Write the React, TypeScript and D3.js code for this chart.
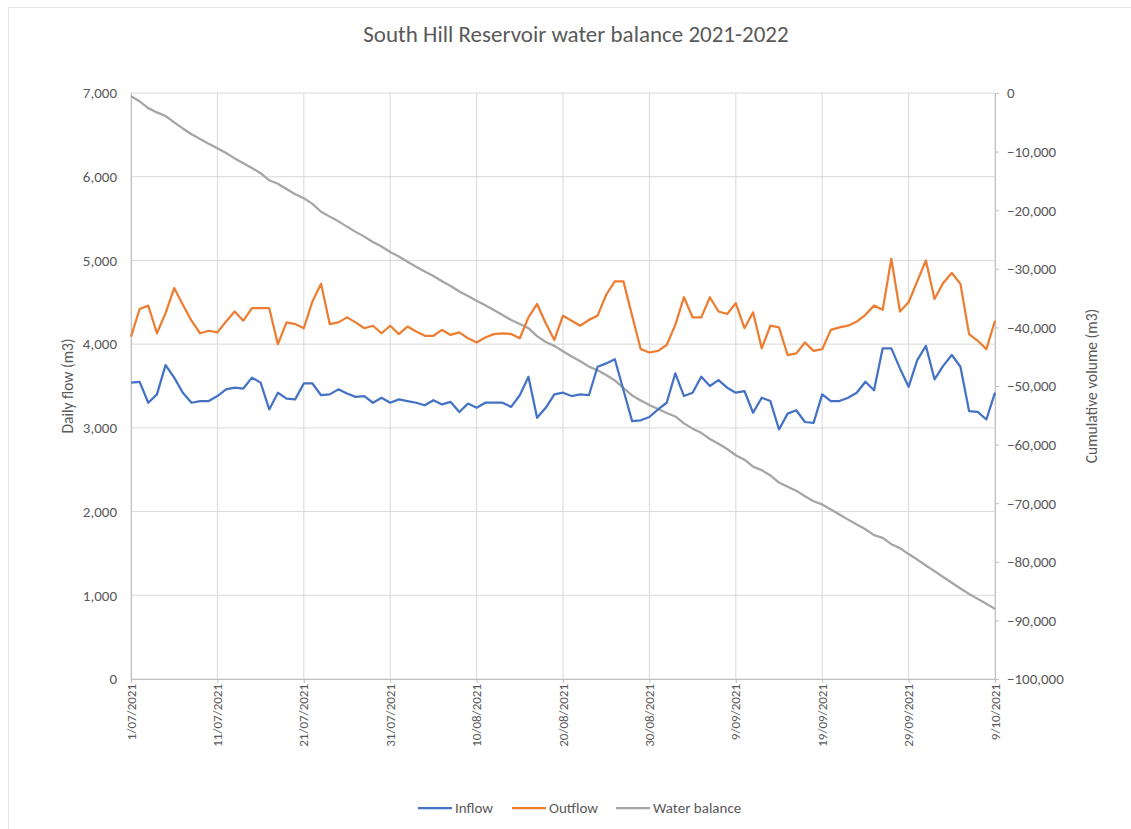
import React, { useEffect, useRef } from 'react';
import * as d3 from 'd3';

// Daily values, 1 Jul 2021 .. 9 Oct 2021 (101 days)
const startDate = new Date(2021, 6, 1);
const endDate = new Date(2021, 9, 9);

const inflow = [
  3540, 3550, 3300, 3400, 3750, 3600, 3420, 3300, 3320, 3320,
  3380, 3460, 3480, 3470, 3600, 3540, 3220, 3420, 3350, 3340,
  3530, 3530, 3390, 3400, 3460, 3410, 3370, 3380, 3300, 3360,
  3300, 3340, 3320, 3300, 3270, 3330, 3280, 3310, 3190, 3290,
  3240, 3300, 3300, 3300, 3250, 3390, 3610, 3120, 3240, 3400,
  3420, 3380, 3400, 3390, 3730, 3770, 3820, 3450, 3080, 3090,
  3130, 3220, 3300, 3650, 3380, 3420, 3610, 3500, 3570, 3480,
  3420, 3440, 3180, 3360, 3320, 2980, 3170, 3210, 3070, 3060,
  3400, 3320, 3320, 3360, 3420, 3550, 3450, 3950, 3950, 3710,
  3490, 3810, 3980, 3580, 3740, 3870, 3730, 3200, 3190, 3100,
  3420,
];

const outflow = [
  4090, 4420, 4460, 4130, 4370, 4670, 4470, 4280, 4130, 4160,
  4140, 4270, 4390, 4280, 4430, 4430, 4430, 4000, 4260, 4240,
  4190, 4510, 4720, 4240, 4260, 4320, 4260, 4190, 4220, 4130,
  4220, 4120, 4210, 4150, 4100, 4100, 4170, 4110, 4140, 4070,
  4020, 4080, 4120, 4130, 4120, 4070, 4320, 4480, 4250, 4050,
  4340, 4280, 4220, 4290, 4340, 4590, 4750, 4750, 4340, 3940,
  3900, 3920, 3990, 4230, 4560, 4320, 4320, 4560, 4390, 4360,
  4490, 4190, 4380, 3950, 4220, 4200, 3870, 3890, 4020, 3920,
  3940, 4170, 4200, 4220, 4270, 4350, 4460, 4410, 5020, 4390,
  4500, 4750, 5000, 4540, 4730, 4850, 4720, 4120, 4040, 3940,
  4280,
];

const waterBalance = [
  -550, -1420, -2580, -3310, -3930, -5000, -6050, -7030, -7840, -8680,
  -9440, -10250, -11160, -11970, -12800, -13690, -14900, -15480, -16390, -17290,
  -17950, -18930, -20260, -21100, -21900, -22810, -23700, -24510, -25430, -26200,
  -27120, -27900, -28790, -29640, -30470, -31240, -32130, -32930, -33880, -34660,
  -35440, -36220, -37040, -37870, -38740, -39420, -40130, -41490, -42500, -43150,
  -44070, -44970, -45790, -46690, -47300, -48120, -49050, -50350, -51610, -52460,
  -53230, -53930, -54620, -55200, -56380, -57280, -57990, -59050, -59870, -60750,
  -61820, -62570, -63770, -64360, -65260, -66480, -67180, -67860, -68810, -69670,
  -70210, -71060, -71940, -72800, -73650, -74450, -75460, -75920, -76990, -77670,
  -78680, -79620, -80640, -81600, -82590, -83570, -84560, -85480, -86330, -87170,
  -88030,
];

const leftTicks = [0, 1000, 2000, 3000, 4000, 5000, 6000, 7000];
const rightTicks = [0, -10000, -20000, -30000, -40000, -50000, -60000, -70000, -80000, -90000, -100000];

const seriesNames = ['Inflow', 'Outflow', 'Water balance'];
const seriesColors = ['#4472C4', '#ED7D31', '#A5A5A5'];

const FONT = 'Carlito, Calibri, Lato, sans-serif';

const App: React.FC = () => {
  const svgRef = useRef<SVGSVGElement>(null);

  useEffect(() => {
    if (!svgRef.current) return;
    const svg = d3.select(svgRef.current);
    svg.selectAll('*').remove();

    const W = 1131, H = 829;
    const left = 131, right = 995, top = 93, bottom = 679;

    const dates = d3.timeDay.range(startDate, d3.timeDay.offset(endDate, 1));

    const x = d3.scaleTime().domain([startDate, endDate]).range([left, right]);
    const yL = d3.scaleLinear().domain([0, 7000]).range([bottom, top]);
    const yR = d3.scaleLinear().domain([-100000, 0]).range([bottom, top]);

    svg.append('rect').attr('width', W).attr('height', H).attr('fill', 'white');
    // faint chart border
    svg.append('rect')
      .attr('x', 8.5).attr('y', 7.5).attr('width', W + 20).attr('height', H + 20)
      .attr('fill', 'none').attr('stroke', '#e6e6e6');

    // title
    svg.append('text')
      .attr('x', 576).attr('y', 42)
      .attr('text-anchor', 'middle')
      .style('font-family', FONT).style('font-size', '23px').style('fill', '#595959')
      .text('South Hill Reservoir water balance 2021-2022');

    const tickDates = d3.timeDay.range(startDate, d3.timeDay.offset(endDate, 1), 10);

    // horizontal grid
    svg.append('g').selectAll('line').data(leftTicks).enter().append('line')
      .attr('x1', left).attr('x2', right)
      .attr('y1', d => yL(d)).attr('y2', d => yL(d))
      .attr('stroke', '#d9d9d9').attr('stroke-width', 1);

    // vertical grid
    svg.append('g').selectAll('line').data(tickDates).enter().append('line')
      .attr('x1', d => x(d)).attr('x2', d => x(d))
      .attr('y1', top).attr('y2', bottom)
      .attr('stroke', '#d9d9d9').attr('stroke-width', 1);

    // left axis
    const axL = svg.append('g').attr('transform', `translate(${left},0)`)
      .call(d3.axisLeft(yL).tickValues(leftTicks).tickSize(0).tickPadding(14).tickFormat(d3.format(',')));
    axL.select('.domain').attr('stroke', '#bfbfbf');
    axL.selectAll('text').style('font-family', FONT).style('font-size', '15px').attr('fill', '#595959');

    // right axis
    const axR = svg.append('g').attr('transform', `translate(${right},0)`)
      .call(d3.axisRight(yR).tickValues(rightTicks).tickSize(4).tickPadding(8).tickFormat(d3.format(',')));
    axR.select('.domain').attr('stroke', '#bfbfbf');
    axR.selectAll('.tick line').attr('stroke', '#bfbfbf');
    axR.selectAll('text').style('font-family', FONT).style('font-size', '15px').attr('fill', '#595959');

    // bottom axis
    const axB = svg.append('g').attr('transform', `translate(0,${bottom})`)
      .call(d3.axisBottom(x).tickValues(tickDates).tickSize(4).tickFormat(d3.timeFormat('%-d/%m/%Y') as any));
    axB.select('.domain').attr('stroke', '#bfbfbf');
    axB.selectAll('.tick line').attr('stroke', '#bfbfbf');
    axB.selectAll('text')
      .attr('transform', 'rotate(-90)')
      .attr('x', -5).attr('y', 0).attr('dy', '0.32em')
      .style('text-anchor', 'end')
      .style('font-family', FONT).style('font-size', '13px').attr('fill', '#595959');

    // axis titles
    svg.append('text')
      .attr('transform', `translate(73,${(top + bottom) / 2}) rotate(-90)`)
      .attr('text-anchor', 'middle')
      .style('font-family', FONT).style('font-size', '15.5px').style('fill', '#595959')
      .text('Daily flow (m3)');
    svg.append('text')
      .attr('transform', `translate(1097,${(top + bottom) / 2}) rotate(-90)`)
      .attr('text-anchor', 'middle')
      .style('font-family', FONT).style('font-size', '15.5px').style('fill', '#595959')
      .text('Cumulative volume (m3)');

    // lines
    const lineL = d3.line<number>().x((_, i) => x(dates[i])).y(d => yL(d));
    const lineR = d3.line<number>().x((_, i) => x(dates[i])).y(d => yR(d));

    svg.append('path').datum(waterBalance).attr('d', lineR)
      .attr('fill', 'none').attr('stroke', seriesColors[2]).attr('stroke-width', 2.25)
      .attr('stroke-linejoin', 'round');
    svg.append('path').datum(inflow).attr('d', lineL)
      .attr('fill', 'none').attr('stroke', seriesColors[0]).attr('stroke-width', 2.25)
      .attr('stroke-linejoin', 'round');
    svg.append('path').datum(outflow).attr('d', lineL)
      .attr('fill', 'none').attr('stroke', seriesColors[1]).attr('stroke-width', 2.25)
      .attr('stroke-linejoin', 'round');

    // legend
    const legendX = [418, 512, 616];
    const lg = svg.append('g').selectAll('g').data(seriesNames).enter().append('g')
      .attr('transform', (_, i) => `translate(${legendX[i]},808)`);
    lg.append('line').attr('x1', 0).attr('x2', 34).attr('y1', 0).attr('y2', 0)
      .attr('stroke', (_, i) => seriesColors[i]).attr('stroke-width', 2.25);
    lg.append('text').attr('x', 37).attr('y', 0).attr('dy', '0.35em')
      .style('font-family', FONT).style('font-size', '15px').style('fill', '#595959')
      .text(d => d);
  }, []);

  return (
    <svg
      ref={svgRef}
      width={1131}
      height={829}
      style={{ position: 'absolute', left: 0, top: 0, display: 'block' }}
    />
  );
};

export default App;
